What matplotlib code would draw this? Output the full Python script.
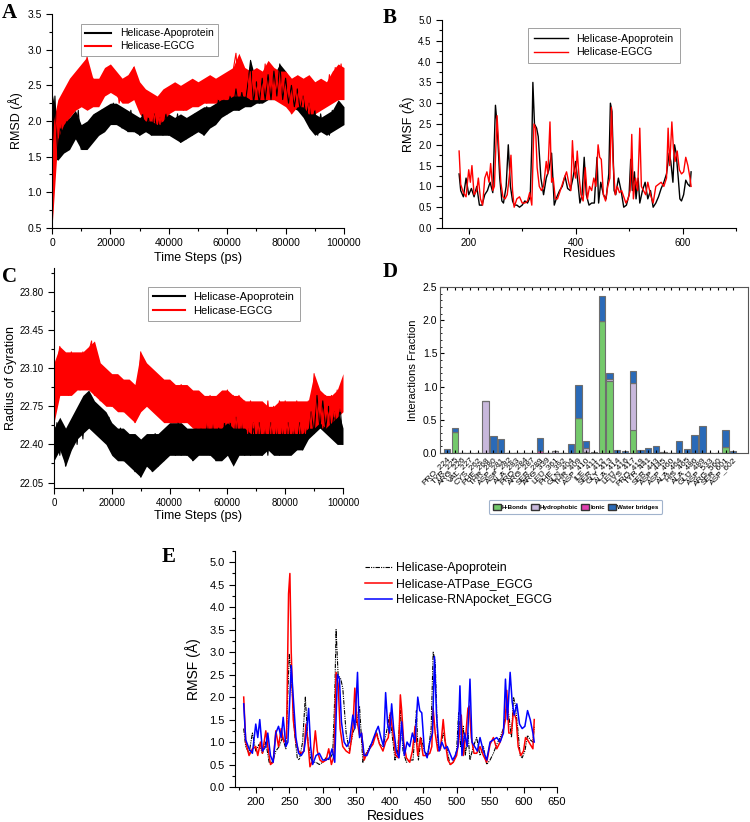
import numpy as np
import matplotlib
matplotlib.use("Agg")
import matplotlib.pyplot as plt
from matplotlib.ticker import MultipleLocator, FixedLocator, FormatStrFormatter
from matplotlib.lines import Line2D
from matplotlib.patches import Patch

plt.rcParams['font.family'] = ['Liberation Sans', 'DejaVu Sans']

# ---- Panel A: RMSD ----
# band edges read every 2000 ps
rmsd_band_time = list(range(0, 100001, 2000))
rmsd_apo_hi = [2.4, 1.95, 2.0, 2.05, 2.15, 1.95, 2.0, 2.1, 2.15, 2.2,
               2.25, 2.25, 2.2, 2.15, 2.1, 2.05, 2.1, 2.05, 2.1, 2.05,
               2.1, 2.05, 2.1, 2.05, 2.1, 2.15, 2.2, 2.2, 2.25, 2.35,
               2.35, 2.4, 2.45, 2.4, 2.85, 2.55, 2.6, 2.7, 2.65, 2.8,
               2.7, 2.55, 2.45, 2.35, 2.25, 2.1, 2.05, 2.1, 2.15, 2.3, 2.2]
rmsd_apo_lo = [1.5, 1.45, 1.55, 1.6, 1.75, 1.6, 1.6, 1.7, 1.8, 1.85,
               1.95, 1.95, 1.9, 1.85, 1.85, 1.8, 1.85, 1.8, 1.8, 1.8,
               1.8, 1.75, 1.7, 1.75, 1.8, 1.85, 1.8, 1.9, 1.95, 2.05,
               2.1, 2.15, 2.15, 2.2, 2.2, 2.25, 2.25, 2.3, 2.3, 2.3,
               2.25, 2.2, 2.15, 2.05, 1.9, 1.8, 1.85, 1.8, 1.85, 1.9, 1.95]
rmsd_egcg_hi = [1.9, 2.3, 2.45, 2.6, 2.7, 2.8, 2.9, 2.6, 2.6, 2.75,
                2.8, 2.7, 2.6, 2.65, 2.78, 2.55, 2.45, 2.4, 2.35, 2.45,
                2.5, 2.55, 2.5, 2.55, 2.6, 2.55, 2.6, 2.65, 2.6, 2.65,
                2.7, 2.75, 2.95, 2.75, 2.7, 2.75, 2.7, 2.85, 2.75, 2.7,
                2.7, 2.6, 2.65, 2.6, 2.65, 2.55, 2.6, 2.55, 2.7, 2.8, 2.75]
rmsd_egcg_lo = [0.5, 1.75, 1.95, 2.05, 2.15, 2.2, 2.15, 2.2, 2.2, 2.35,
                2.4, 2.35, 2.25, 2.25, 2.3, 2.1, 2.0, 2.0, 1.95, 2.0,
                2.1, 2.15, 2.15, 2.15, 2.2, 2.2, 2.25, 2.25, 2.25, 2.3,
                2.3, 2.35, 2.35, 2.35, 2.3, 2.3, 2.3, 2.3, 2.3, 2.25,
                2.2, 2.1, 2.2, 2.2, 2.1, 2.1, 2.15, 2.2, 2.25, 2.3, 2.3]
# trace values every 1000 ps (fluctuation peaks / dips)
rmsd_time = list(range(0, 100001, 1000))
rmsd_apo = [1.55, 2.35, 1.5, 1.95, 1.6, 2.0, 1.65, 2.05, 1.75, 2.15,
            1.6, 1.95, 1.65, 2.0, 1.75, 2.1, 1.8, 2.15, 1.9, 2.2,
            1.95, 2.25, 1.95, 2.2, 1.9, 2.15, 1.85, 2.15, 1.85, 2.05,
            1.8, 2.1, 1.85, 2.05, 1.8, 2.1, 1.85, 2.05, 1.8, 2.1,
            1.8, 2.05, 1.8, 2.1, 1.7, 2.0, 1.75, 2.05, 1.8, 2.1,
            1.85, 2.15, 1.8, 2.2, 1.95, 2.2, 1.95, 2.3, 2.05, 2.3,
            2.1, 2.35, 2.15, 2.45, 2.15, 2.4, 2.2, 2.5, 2.85, 2.25,
            2.55, 2.25, 2.6, 2.3, 2.65, 2.3, 2.7, 2.35, 2.8, 2.3,
            2.6, 2.25, 2.5, 2.2, 2.45, 2.15, 2.35, 2.05, 2.25, 1.9,
            2.15, 1.8, 2.1, 1.85, 2.05, 1.8, 2.15, 1.9, 2.2, 1.95, 2.1]
rmsd_egcg = [0.5, 1.7, 2.2, 1.9, 2.35, 2.0, 2.45, 2.15, 2.6, 2.2,
             2.75, 2.25, 2.9, 2.2, 2.6, 2.25, 2.55, 2.35, 2.7, 2.4,
             2.75, 2.4, 2.65, 2.25, 2.55, 2.3, 2.6, 2.4, 2.75, 2.25,
             2.5, 2.1, 2.4, 2.05, 2.35, 2.0, 2.3, 1.95, 2.4, 2.1,
             2.45, 2.15, 2.5, 2.2, 2.45, 2.15, 2.5, 2.2, 2.55, 2.25,
             2.5, 2.25, 2.55, 2.25, 2.6, 2.3, 2.55, 2.3, 2.6, 2.3,
             2.65, 2.35, 2.7, 2.95, 2.4, 2.7, 2.35, 2.65, 2.3, 2.7,
             2.35, 2.65, 2.3, 2.8, 2.35, 2.7, 2.3, 2.6, 2.3, 2.65,
             2.25, 2.55, 2.1, 2.6, 2.25, 2.55, 2.2, 2.6, 2.1, 2.5,
             2.15, 2.55, 2.2, 2.5, 2.25, 2.65, 2.3, 2.75, 2.3, 2.8, 2.4]

# ---- Panel C: radius of gyration ----
rg_band_time = list(range(0, 100001, 2000))
rg_apo_hi = [22.55, 22.65, 22.55, 22.65, 22.75, 22.85, 22.9, 22.8, 22.75, 22.7,
             22.6, 22.55, 22.55, 22.5, 22.5, 22.45, 22.5, 22.5, 22.5, 22.55,
             22.6, 22.6, 22.6, 22.55, 22.55, 22.6, 22.6, 22.6, 22.65, 22.6,
             22.6, 22.65, 22.65, 22.6, 22.6, 22.6, 22.6, 22.6, 22.6, 22.55,
             22.6, 22.6, 22.6, 22.65, 22.65, 22.8, 22.85, 22.85, 22.75, 22.75, 22.55]
rg_apo_lo = [22.25, 22.35, 22.2, 22.35, 22.45, 22.5, 22.55, 22.5, 22.45, 22.4,
             22.3, 22.25, 22.25, 22.2, 22.15, 22.1, 22.2, 22.15, 22.2, 22.25,
             22.3, 22.3, 22.3, 22.3, 22.25, 22.3, 22.3, 22.3, 22.25, 22.25,
             22.3, 22.2, 22.3, 22.3, 22.3, 22.3, 22.3, 22.35, 22.3, 22.3,
             22.3, 22.3, 22.35, 22.35, 22.45, 22.5, 22.55, 22.5, 22.45, 22.4, 22.4]
rg_egcg_hi = [23.15, 23.3, 23.25, 23.25, 23.25, 23.25, 23.3, 23.35, 23.15, 23.1,
              23.05, 23.05, 23.0, 23.0, 22.95, 23.25, 23.15, 23.1, 23.05, 23.0,
              23.0, 22.95, 22.95, 22.95, 22.9, 22.9, 22.85, 22.85, 22.85, 22.9,
              22.9, 22.85, 22.85, 22.8, 22.8, 22.8, 22.8, 22.75, 22.75, 22.8,
              22.8, 22.8, 22.8, 22.8, 22.8, 23.05, 22.9, 22.85, 22.85, 22.9, 23.05]
rg_egcg_lo = [22.6, 22.85, 22.85, 22.85, 22.9, 22.9, 22.9, 22.85, 22.8, 22.75,
              22.75, 22.7, 22.7, 22.65, 22.6, 22.7, 22.75, 22.7, 22.65, 22.6,
              22.6, 22.6, 22.6, 22.6, 22.55, 22.55, 22.55, 22.55, 22.55, 22.55,
              22.6, 22.55, 22.55, 22.55, 22.5, 22.5, 22.5, 22.5, 22.5, 22.5,
              22.5, 22.5, 22.5, 22.5, 22.55, 22.55, 22.6, 22.55, 22.6, 22.65, 22.7]
rg_time = list(range(0, 100001, 1000))
rg_apo = [22.25, 22.6, 22.3, 22.55, 22.2, 22.5, 22.35, 22.65, 22.4, 22.75,
          22.45, 22.85, 22.55, 22.8, 22.55, 22.75, 22.5, 22.7, 22.45, 22.65,
          22.35, 22.55, 22.3, 22.55, 22.25, 22.5, 22.25, 22.45, 22.15, 22.4,
          22.1, 22.45, 22.2, 22.45, 22.15, 22.5, 22.2, 22.45, 22.25, 22.55,
          22.3, 22.55, 22.3, 22.6, 22.3, 22.55, 22.3, 22.5, 22.25, 22.55,
          22.3, 22.55, 22.35, 22.6, 22.3, 22.6, 22.25, 22.55, 22.3, 22.6,
          22.35, 22.6, 22.3, 22.65, 22.35, 22.6, 22.3, 22.55, 22.3, 22.6,
          22.35, 22.6, 22.3, 22.55, 22.3, 22.6, 22.35, 22.55, 22.3, 22.55,
          22.35, 22.6, 22.35, 22.55, 22.35, 22.6, 22.35, 22.55, 22.45, 22.7,
          22.5, 22.85, 22.55, 22.8, 22.55, 22.75, 22.5, 22.7, 22.45, 22.75, 22.4]
rg_egcg = [22.65, 23.1, 23.3, 22.9, 23.2, 22.85, 23.25, 22.9, 23.2, 22.9,
           23.25, 22.95, 23.25, 23.35, 22.85, 23.15, 22.8, 23.1, 22.8, 23.05,
           22.75, 23.0, 22.75, 23.0, 22.7, 22.95, 22.7, 22.95, 22.6, 22.85,
           23.25, 22.75, 23.1, 22.8, 23.05, 22.7, 23.0, 22.65, 22.95, 22.65,
           22.95, 22.6, 22.9, 22.6, 22.95, 22.6, 22.9, 22.6, 22.85, 22.55,
           22.85, 22.55, 22.8, 22.55, 22.85, 22.55, 22.8, 22.6, 22.85, 22.6,
           22.9, 22.6, 22.85, 22.55, 22.85, 22.55, 22.8, 22.5, 22.8, 22.55,
           22.75, 22.5, 22.75, 22.5, 22.8, 22.5, 22.75, 22.5, 22.8, 22.5,
           22.8, 22.5, 22.75, 22.5, 22.8, 22.5, 22.75, 22.5, 22.8, 22.55,
           23.05, 22.6, 22.85, 22.55, 22.85, 22.6, 22.85, 22.65, 22.9, 22.7, 23.0]

# ---- Panels B / E: RMSF per residue ----
apo_res = [182, 185, 190, 195, 200, 205, 210, 215, 220, 225, 230, 235, 240, 245, 250, 253,
           258, 262, 265, 270, 274, 278, 282, 285, 290, 295, 300, 305, 310, 315, 318, 320,
           323, 327, 330, 335, 340, 345, 350, 355, 360, 365, 370, 375, 380, 385, 390, 395,
           400, 405, 408, 412, 416, 420, 425, 430, 435, 440, 443, 447, 452, 457, 462, 465,
           468, 472, 475, 480, 485, 490, 495, 500, 503, 506, 510, 513, 517, 520, 525, 530,
           535, 540, 545, 550, 555, 560, 565, 570, 575, 578, 582, 585, 588, 592, 595, 598,
           602, 606, 610, 614, 616]
apo_rmsf = [1.3, 0.9, 0.75, 1.2, 0.8, 0.95, 0.75, 1.0, 0.55, 0.55, 0.8, 0.9, 1.1, 0.85, 2.95, 2.5,
            1.2, 0.65, 0.6, 1.0, 2.0, 1.0, 0.65, 0.55, 0.55, 0.5, 0.55, 0.65, 0.6, 0.75, 2.0, 3.5,
            2.5, 2.4, 2.2, 1.2, 0.8, 1.2, 1.4, 1.8, 0.55, 0.75, 0.9, 1.0, 1.25, 0.95, 0.9, 1.2,
            1.6, 1.0, 0.6, 0.8, 1.7, 0.8, 0.55, 0.6, 0.6, 1.7, 0.6, 1.1, 0.8, 0.7, 1.3, 3.0,
            2.8, 0.9, 0.8, 1.2, 0.9, 0.5, 0.55, 0.8, 1.65, 0.9, 1.35, 0.7, 1.2, 0.6, 0.9, 1.1,
            0.7, 0.9, 0.5, 0.6, 0.75, 0.95, 1.1, 1.3, 1.8, 1.6, 1.1, 2.0, 1.8, 1.2, 0.7, 0.65,
            0.8, 1.15, 1.05, 1.0, 1.35]

egcg_res = [182, 185, 190, 195, 200, 203, 206, 210, 215, 218, 222, 226, 230, 234, 238, 241,
            245, 248, 253, 256, 260, 264, 268, 272, 276, 279, 282, 285, 290, 295, 300, 305,
            310, 314, 318, 322, 325, 328, 332, 336, 340, 345, 348, 352, 355, 358, 362, 366,
            370, 375, 380, 383, 387, 391, 394, 397, 400, 403, 406, 410, 414, 418, 422, 426,
            430, 434, 438, 442, 445, 448, 452, 456, 460, 464, 467, 470, 474, 478, 482, 486,
            490, 494, 498, 502, 505, 508, 512, 516, 520, 523, 527, 531, 535, 540, 545, 550,
            555, 560, 565, 570, 573, 576, 580, 583, 586, 590, 594, 598, 602, 606, 610, 614, 616]
egcg_rmsf = [1.85, 1.05, 0.85, 0.75, 1.4, 1.1, 1.5, 0.8, 0.9, 1.2, 0.7, 0.55, 1.2, 1.35, 1.1, 1.55,
             0.9, 1.0, 2.7, 2.0, 1.1, 0.75, 0.7, 0.8, 1.25, 1.75, 0.9, 0.5, 0.7, 0.75, 0.6, 0.6,
             0.65, 0.85, 0.55, 2.5, 2.4, 1.45, 1.0, 0.9, 1.0, 1.6, 1.3, 2.55, 1.1, 1.2, 0.7, 0.7,
             0.85, 1.05, 1.25, 1.35, 1.1, 0.9, 2.1, 1.4, 1.2, 1.85, 1.3, 0.8, 0.65, 1.45, 0.7, 1.0,
             0.9, 1.2, 1.0, 2.0, 1.7, 1.65, 0.8, 0.65, 1.0, 1.2, 2.9, 1.6, 0.8, 1.0, 0.85, 0.9,
             0.75, 0.6, 0.7, 0.9, 2.25, 0.7, 1.2, 0.9, 2.4, 1.0, 0.9, 0.8, 1.1, 0.8, 0.6, 1.0,
             1.05, 1.1, 1.0, 1.2, 2.4, 1.5, 2.55, 1.9, 1.6, 1.85, 1.4, 1.3, 1.35, 1.7, 1.5, 1.2, 1.0]

atp_res = [182, 185, 190, 195, 200, 203, 207, 210, 215, 218, 222, 226, 230, 234, 238, 242,
           246, 249, 251, 253, 256, 260, 264, 268, 272, 275, 278, 281, 285, 289, 292, 296,
           300, 305, 309, 313, 317, 320, 323, 326, 330, 335, 340, 345, 348, 351, 355, 358,
           362, 366, 370, 375, 380, 385, 390, 394, 398, 401, 405, 409, 413, 416, 418, 421,
           425, 430, 434, 438, 442, 446, 450, 455, 460, 463, 465, 468, 472, 476, 480, 483,
           487, 491, 495, 500, 503, 507, 510, 514, 517, 519, 522, 526, 530, 535, 540, 545,
           550, 555, 560, 565, 569, 573, 575, 578, 582, 585, 589, 592, 596, 600, 603, 606,
           610, 614, 616]
atp_rmsf = [2.0, 1.0, 0.7, 0.85, 0.9, 0.7, 1.0, 0.75, 1.25, 0.9, 0.5, 0.55, 1.25, 0.9, 1.3, 1.0,
            1.1, 4.3, 4.75, 3.0, 1.5, 1.0, 0.8, 0.75, 0.8, 1.4, 1.0, 0.45, 0.6, 1.25, 0.8, 0.6,
            0.55, 0.6, 0.85, 0.5, 0.7, 2.55, 2.3, 1.3, 0.9, 0.8, 0.75, 1.3, 2.2, 1.5, 1.15, 1.2,
            0.6, 0.75, 0.85, 0.95, 1.2, 0.95, 0.8, 1.0, 1.1, 1.65, 1.2, 0.7, 0.65, 2.05, 1.7, 1.0,
            0.65, 0.55, 0.8, 1.35, 0.7, 1.1, 0.7, 0.7, 0.75, 0.9, 1.75, 1.2, 0.8, 0.85, 1.5, 1.0,
            0.6, 0.5, 0.55, 0.7, 1.0, 1.6, 0.7, 1.2, 1.75, 1.8, 1.1, 0.75, 0.75, 0.9, 0.7, 0.55,
            0.95, 1.1, 0.85, 1.0, 1.2, 1.5, 2.15, 1.2, 1.2, 1.7, 1.5, 0.9, 0.7, 0.8, 1.1, 1.05,
            0.95, 0.85, 1.5]

# ---- Panel D: protein-ligand contacts ----
contact_residues = ["PRO_224", "TYR_225", "ARG_226", "VAL_227", "CYS_262", "PHE_268", "THR_280",
                    "ASP_281", "ASP_282", "ALA_283", "PRO_284", "ARG_287", "SER_289", "ARG_339",
                    "LEU_361", "PHE_392", "GLN_404", "THR_409", "ASP_410", "ILE_411", "SER_412",
                    "GLY_413", "ALA_414", "LEU_416", "LYS_417", "PRO_419", "TYR_441", "SER_443",
                    "ASP_445", "ASP_460", "ALA_464", "HIS_465", "ALA_486", "GLU_489", "ASP_533",
                    "ARG_560", "SER_601", "ASP_602"]
hbonds = [0, 0.32, 0, 0, 0, 0, 0, 0, 0, 0, 0, 0, 0, 0, 0, 0, 0, 0.52, 0.01, 0,
          1.99, 1.08, 0, 0, 0.34, 0, 0, 0, 0, 0, 0, 0, 0, 0, 0, 0, 0.09, 0]
hydrophobic = [0, 0, 0, 0, 0, 0.78, 0, 0, 0, 0, 0, 0, 0, 0, 0.03, 0, 0, 0, 0.06, 0,
               0, 0.03, 0, 0, 0.71, 0, 0, 0, 0, 0, 0, 0, 0, 0, 0, 0, 0, 0]
ionic = [0, 0, 0, 0, 0, 0, 0, 0, 0, 0, 0, 0, 0.03, 0, 0, 0, 0, 0, 0, 0,
         0, 0, 0, 0, 0, 0, 0, 0, 0.01, 0, 0, 0, 0, 0, 0, 0, 0, 0]
water_bridges = [0.06, 0.05, 0, 0, 0, 0, 0.25, 0.21, 0, 0, 0, 0, 0.19, 0, 0, 0, 0.13, 0.51, 0.11, 0.02,
                 0.37, 0.09, 0.04, 0.03, 0.19, 0.04, 0.07, 0.11, 0.01, 0, 0.18, 0.06, 0.27, 0.41, 0, 0,
                 0.25, 0.03]

W, H = 750, 822
fig = plt.figure(figsize=(W / 100, H / 100), dpi=100)


def box(l, t, r, b):
    return [l / W, 1 - b / H, (r - l) / W, (b - t) / H]


def origin_style(ax, fs=7.5):
    ax.spines['top'].set_visible(False)
    ax.spines['right'].set_visible(False)
    ax.tick_params(which='both', direction='out', labelsize=fs, width=0.8)
    ax.tick_params(which='major', length=4)
    ax.tick_params(which='minor', length=2)


def noisy_band(ax, bt, lo, hi, t, trace, color):
    # solid core of the fluctuating signal plus its peaks and dips
    ax.fill_between(bt, lo, hi, color=color, lw=0)
    ax.plot(t, trace, color=color, lw=0.8)


def panel_letter(x, y, s):
    fig.text(x / W, 1 - y / H, s, fontsize=15, fontweight='bold',
             family='Liberation Serif', ha='left', va='top')


red = '#ff0000'
pair_handles = [Line2D([], [], color='black', lw=1.5), Line2D([], [], color=red, lw=1.5)]
pair_labels = ['Helicase-Apoprotein', 'Helicase-EGCG']

# A
axA = fig.add_axes(box(52, 14, 344, 228))
noisy_band(axA, rmsd_band_time, rmsd_apo_lo, rmsd_apo_hi, rmsd_time, rmsd_apo, 'black')
noisy_band(axA, rmsd_band_time, rmsd_egcg_lo, rmsd_egcg_hi, rmsd_time, rmsd_egcg, red)
axA.set_xlim(0, 100000)
axA.set_ylim(0.5, 3.5)
axA.xaxis.set_major_locator(MultipleLocator(20000))
axA.xaxis.set_minor_locator(MultipleLocator(10000))
axA.yaxis.set_major_locator(MultipleLocator(0.5))
axA.yaxis.set_minor_locator(MultipleLocator(0.25))
origin_style(axA)
axA.set_xlabel('Time Steps (ps)', fontsize=9)
axA.set_ylabel('RMSD (Å)', fontsize=9)
axA.xaxis.set_label_coords(0.5, -0.112)
axA.yaxis.set_label_coords(-0.1, 0.5)
legA = axA.legend(pair_handles, pair_labels, loc='upper left', bbox_to_anchor=(0.1, 0.953),
                  borderaxespad=0, fontsize=7.5, frameon=True, fancybox=False,
                  edgecolor='#888888', handlelength=2.5, borderpad=0.4, labelspacing=0.3)
legA.get_frame().set_linewidth(0.7)
panel_letter(2, 3, 'A')

# B
axB = fig.add_axes(box(442, 20, 736, 228))
axB.plot(apo_res, apo_rmsf, color='black', lw=1.0)
axB.plot(egcg_res, egcg_rmsf, color=red, lw=1.0)
axB.set_xlim(150, 700)
axB.set_ylim(0, 5)
axB.xaxis.set_major_locator(FixedLocator([200, 400, 600]))
axB.xaxis.set_minor_locator(FixedLocator([300, 500, 700]))
axB.yaxis.set_major_locator(MultipleLocator(0.5))
axB.yaxis.set_minor_locator(MultipleLocator(0.25))
origin_style(axB, fs=7)
axB.set_xlabel('Residues', fontsize=9)
axB.set_ylabel('RMSF (Å)', fontsize=9)
axB.xaxis.set_label_coords(0.5, -0.095)
axB.yaxis.set_label_coords(-0.092, 0.5)
legB = axB.legend([Line2D([], [], color='black', lw=1), Line2D([], [], color=red, lw=1)],
                  pair_labels, loc='upper left', bbox_to_anchor=(0.292, 0.96), borderaxespad=0,
                  fontsize=7.7, frameon=True, fancybox=False, edgecolor='#888888',
                  handlelength=3.2, borderpad=0.55, labelspacing=0.3)
legB.get_frame().set_linewidth(0.7)
panel_letter(383, 8, 'B')

# C
axC = fig.add_axes(box(54, 268, 343, 488))
noisy_band(axC, rg_band_time, rg_apo_lo, rg_apo_hi, rg_time, rg_apo, 'black')
noisy_band(axC, rg_band_time, rg_egcg_lo, rg_egcg_hi, rg_time, rg_egcg, red)
axC.set_xlim(0, 100000)
axC.set_ylim(22.0, 24.02)
axC.xaxis.set_major_locator(MultipleLocator(20000))
axC.xaxis.set_minor_locator(MultipleLocator(10000))
axC.yaxis.set_major_locator(FixedLocator([22.05, 22.40, 22.75, 23.10, 23.45, 23.80]))
axC.yaxis.set_minor_locator(FixedLocator([22.225, 22.575, 22.925, 23.275, 23.625, 23.975]))
axC.yaxis.set_major_formatter(FormatStrFormatter('%.2f'))
origin_style(axC, fs=7)
axC.set_xlabel('Time Steps (ps)', fontsize=9)
axC.set_ylabel('Radius of Gyration', fontsize=9)
axC.xaxis.set_label_coords(0.5, -0.1)
axC.yaxis.set_label_coords(-0.128, 0.5)
legC = axC.legend(pair_handles, pair_labels, loc='upper left', bbox_to_anchor=(0.325, 0.915),
                  borderaxespad=0, fontsize=8, frameon=True, fancybox=False,
                  edgecolor='#888888', handlelength=2.8, borderpad=0.5, labelspacing=0.3)
legC.get_frame().set_linewidth(0.7)
panel_letter(2, 267, 'C')

# D
axD = fig.add_axes(box(440, 287, 748, 453))
xpos = np.arange(len(contact_residues))
b0 = np.zeros(len(contact_residues))
kinds = [(hbonds, '#74c96b', 'H-Bonds'), (hydrophobic, '#c8b8dc', 'Hydrophobic'),
         (ionic, '#e03fb0', 'Ionic'), (water_bridges, '#2a6ab8', 'Water bridges')]
for vals, col, _ in kinds:
    v = np.array(vals)
    axD.bar(xpos, v, bottom=b0, color=col, edgecolor='#6e6e6e', linewidth=0.8, width=0.82)
    b0 = b0 + v
axD.set_xlim(-0.9, 38.9)
axD.set_ylim(0, 2.5)
axD.set_xticks(xpos)
axD.set_xticklabels(contact_residues, rotation=45, ha='right', fontsize=6, rotation_mode='anchor')
axD.yaxis.set_major_locator(MultipleLocator(0.5))
axD.yaxis.set_minor_locator(MultipleLocator(0.1))
axD.tick_params(axis='y', labelsize=7.5, direction='in', length=3, pad=2)
axD.tick_params(axis='y', which='minor', length=1.5, direction='in')
axD.tick_params(axis='x', length=2, direction='in', top=True, pad=2)
for s in axD.spines.values():
    s.set_color('#555555')
axD.set_ylabel('Interactions Fraction', fontsize=8)
axD.yaxis.set_label_coords(-0.07, 0.5)
handles = [Patch(facecolor=c, edgecolor='#333333', label=n) for _, c, n in kinds]
legD = axD.legend(handles=handles, loc='center', bbox_to_anchor=(0.44, -0.325), ncol=4,
                  frameon=True, fancybox=True, edgecolor='#8aa0c0',
                  handlelength=1.3, handleheight=1.0, columnspacing=0.4, handletextpad=0.2,
                  borderpad=0.6, prop={'weight': 'bold', 'size': 4.5})
legD.get_frame().set_linewidth(0.8)
panel_letter(383, 262, 'D')

# E
axE = fig.add_axes(box(235, 551, 557, 787))
axE.plot(apo_res, apo_rmsf, color='black', lw=0.8, linestyle=(0, (4, 1, 1, 1, 1, 1)),
         label='Helicase-Apoprotein')
axE.plot(atp_res, atp_rmsf, color=red, lw=1.1, label='Helicase-ATPase_EGCG')
axE.plot(egcg_res, egcg_rmsf, color='#0000ff', lw=1.1, label='Helicase-RNApocket_EGCG')
axE.set_xlim(169, 650)
axE.set_ylim(0, 5.25)
axE.xaxis.set_major_locator(MultipleLocator(50))
axE.xaxis.set_minor_locator(MultipleLocator(25))
axE.yaxis.set_major_locator(MultipleLocator(0.5))
axE.yaxis.set_minor_locator(MultipleLocator(0.25))
origin_style(axE, fs=8)
axE.set_xlabel('Residues', fontsize=10)
axE.set_ylabel('RMSF (Å)', fontsize=10)
axE.xaxis.set_label_coords(0.5, -0.095)
axE.yaxis.set_label_coords(-0.106, 0.5)
axE.legend(loc='upper left', bbox_to_anchor=(0.39, 0.972), borderaxespad=0, fontsize=8.8,
           frameon=False, handlelength=2.2, labelspacing=0.3, handletextpad=0.3)
panel_letter(162, 547, 'E')

fig.savefig('out.png', dpi=100)
